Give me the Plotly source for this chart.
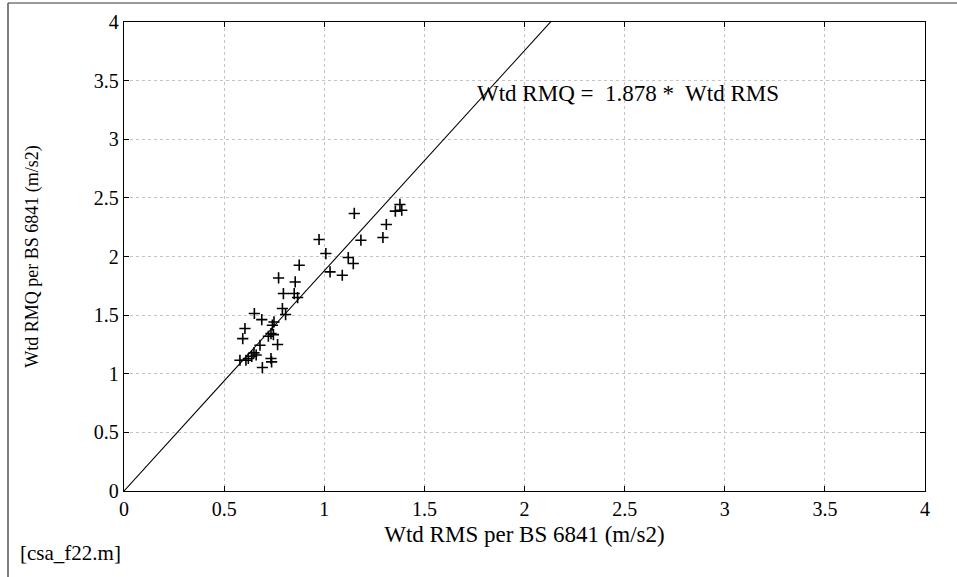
import plotly.graph_objects as go

rms = [0.974, 0.875, 0.772, 0.855, 1.008, 1.150, 1.378, 1.355, 1.387, 1.310, 1.293, 1.183,
       1.120, 1.145, 1.029, 1.090, 0.796, 0.850, 0.867, 0.791, 0.807, 0.651, 0.688, 0.749,
       0.741, 0.604, 0.593, 0.734, 0.721, 0.746, 0.767, 0.679, 0.649, 0.638, 0.621, 0.579,
       0.609, 0.734, 0.737, 0.691, 0.660]
rmq = [2.145, 1.926, 1.817, 1.783, 2.025, 2.367, 2.444, 2.387, 2.395, 2.273, 2.162, 2.139,
       1.991, 1.940, 1.869, 1.840, 1.684, 1.684, 1.650, 1.556, 1.505, 1.514, 1.462, 1.442,
       1.414, 1.386, 1.300, 1.343, 1.320, 1.334, 1.249, 1.243, 1.178, 1.149, 1.130, 1.115,
       1.115, 1.130, 1.101, 1.053, 1.160]
slope = 1.878
fit_x = [0, 4]
fit_y = [slope * v for v in fit_x]
ticks = [0, 0.5, 1, 1.5, 2, 2.5, 3, 3.5, 4]
tick_text = ["0", "0.5", "1", "1.5", "2", "2.5", "3", "3.5", "4"]

font = "Liberation Serif, Times New Roman, serif"

W, H = 957, 577
L, R, T, B = 124, 32, 22, 86
pw, ph = W - L - R, H - T - B


def px(x):
    return (x - L) / pw


def py(y):
    return (H - B - y) / ph


fig = go.Figure()
fig.add_trace(go.Scatter(x=fit_x, y=fit_y, mode="lines",
                         line=dict(color="black", width=1.1), showlegend=False))
fig.add_trace(go.Scatter(x=rms, y=rmq, mode="markers",
                         marker=dict(symbol="cross-thin", size=8,
                                     line=dict(color="black", width=1.6)),
                         showlegend=False))

axis_common = dict(range=[0, 4], tickvals=ticks, ticktext=tick_text,
                   showgrid=True, gridcolor="#c4c4c4", griddash="dot", gridwidth=1,
                   zeroline=False, showline=True, linecolor="black", linewidth=1.3,
                   mirror="ticks", ticks="inside", ticklen=5, tickcolor="black",
                   tickfont=dict(family=font, size=20, color="black"))

fig.update_layout(
    width=W, height=H,
    margin=dict(l=L, r=R, t=T, b=B),
    paper_bgcolor="white", plot_bgcolor="white",
    font=dict(family=font, color="black"),
    xaxis=dict(**axis_common,
               title=dict(text="Wtd RMS per BS 6841 (m/s2)",
                          font=dict(family=font, size=23), standoff=6)),
    yaxis=dict(**axis_common,
               title=dict(text="Wtd RMQ per BS 6841 (m/s2)",
                          font=dict(family=font, size=18), standoff=50)),
    annotations=[
        dict(x=1.753, y=3.393, xref="x", yref="y", xanchor="left", yanchor="middle",
             text="Wtd RMQ =&nbsp; 1.878 *&nbsp; Wtd RMS", showarrow=False,
             font=dict(family=font, size=23, color="black")),
        dict(x=px(18), y=py(553), xref="paper", yref="paper",
             xanchor="left", yanchor="middle", text="[csa_f22.m]", showarrow=False,
             font=dict(family=font, size=21, color="black")),
    ],
    shapes=[
        dict(type="line", xref="paper", yref="paper",
             x0=px(8), x1=px(957), y0=py(3), y1=py(3),
             line=dict(color="#777777", width=1.5)),
        dict(type="line", xref="paper", yref="paper",
             x0=px(8), x1=px(8), y0=py(577), y1=py(3),
             line=dict(color="#555555", width=1.5)),
    ],
)

fig.write_html("out.html", config={"displayModeBar": False},
               post_script="document.body.style.margin='0';")
